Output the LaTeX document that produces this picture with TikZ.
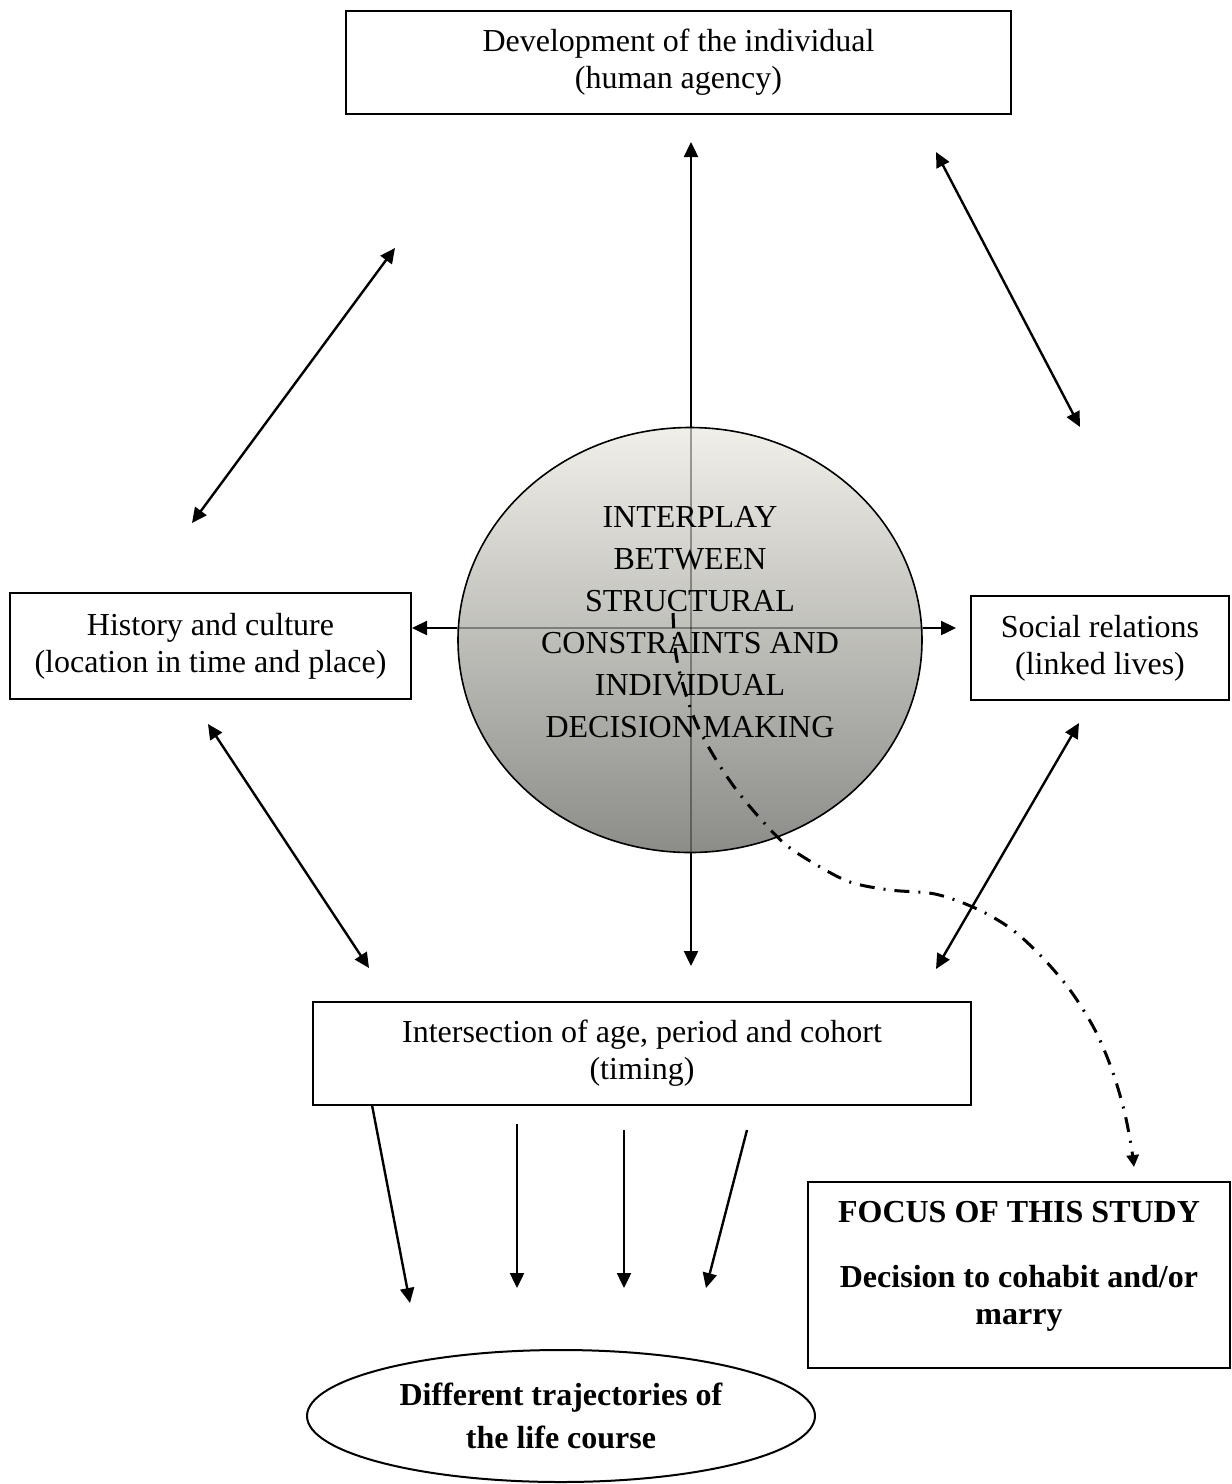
\documentclass[tikz,border=0pt]{standalone}
\usepackage{fontspec}
\setmainfont{Liberation Serif}
\usetikzlibrary{arrows.meta,shapes.geometric}
\begin{document}
\begin{tikzpicture}[x=0.5pt,y=-0.5pt,
  box/.style={draw=black,line width=1pt,rectangle,inner sep=0pt,align=center,font=\fontsize{16pt}{18.5pt}\selectfont},
  arr/.style={line width=1.2pt,-{Triangle[length=7.5pt,width=7pt]}},
  darr/.style={line width=1.2pt,{Triangle[length=7.5pt,width=7pt]}-{Triangle[length=7.5pt,width=7pt]}},
  dd/.style={line width=1.5pt,dash pattern=on 7.5pt off 4.5pt on 1pt off 4.5pt,-{Triangle[length=6pt,width=6pt]}},
  cross/.style={draw=black,draw opacity=0.35,line width=1pt}
]
\useasboundingbox (0,0) rectangle (1232,1484);

% boxes
\node[box,minimum width=332.5pt,minimum height=51.5pt] (dev) at (678.5,62.5) {Development of the individual\\(human agency)};
\node[box,minimum width=200.5pt,minimum height=53pt] (hist) at (210.5,646) {History and culture\\(location in time and place)};
\node[box,minimum width=129pt,minimum height=52pt] (soc) at (1100,648) {Social relations\\(linked lives)};
\node[box,minimum width=329pt,minimum height=51.5pt] (time) at (642,1053.5) {Intersection of age, period and cohort\\(timing)};
\node[box,minimum width=211pt,minimum height=93pt] (focus) at (1019,1275) {};
\node[align=center,font=\bfseries\fontsize{16pt}{18.5pt}\selectfont] (focustext) at (1019,1266) {FOCUS OF THIS STUDY\\[14pt]Decision to cohabit and/or\\marry};

% core ellipse
\node[ellipse,draw=black,line width=0.8pt,minimum width=232pt,minimum height=212.5pt,inner sep=0pt,
  top color={rgb,255:red,240;green,239;blue,232},bottom color={rgb,255:red,140;green,140;blue,137}] (core) at (690,640) {};
\coordinate (cc) at (691,628);
\draw[cross] (core.north -| cc) -- (core.south -| cc);
\draw[cross] (core.west |- cc) -- (core.east |- cc);
\node[align=center,font=\fontsize{16pt}{21pt}\selectfont] (coretext) at (690,622) {INTERPLAY\\BETWEEN\\STRUCTURAL\\CONSTRAINTS AND\\INDIVIDUAL\\DECISION MAKING};

% bottom ellipse
\node[ellipse,draw=black,line width=1pt,minimum width=254pt,minimum height=66pt,inner sep=0pt,align=center,
  font=\bfseries\fontsize{16pt}{21.5pt}\selectfont] (traj) at (561,1416) {Different trajectories of\\the life course};

% arrow end coordinates
\coordinate (upT) at (691,142);
\coordinate (dnT) at (691,966);
\coordinate (lT) at (412,628);
\coordinate (rT) at (956,628);
\draw[arr] (core.north -| cc) -- (upT);
\draw[arr] (core.south -| cc) -- (dnT);
\draw[arr] (core.west |- cc) -- (lT);
\draw[arr] (core.east |- cc) -- (rT);

\coordinate (nwA) at (192,523); \coordinate (nwB) at (395,248);
\coordinate (neA) at (936,152); \coordinate (neB) at (1080,427);
\coordinate (swA) at (208,724); \coordinate (swB) at (369,968);
\coordinate (seA) at (1079,723); \coordinate (seB) at (936,969);
\draw[darr] (nwA) -- (nwB);
\draw[darr] (neA) -- (neB);
\draw[darr] (swA) -- (swB);
\draw[darr] (seA) -- (seB);

% arrows below the timing box
\coordinate (b1s) at (372,1105); \coordinate (b1e) at (410,1303);
\coordinate (b2s) at (517,1124); \coordinate (b2e) at (517,1288);
\coordinate (b3s) at (624,1130); \coordinate (b3e) at (624,1288);
\coordinate (b4s) at (747,1130); \coordinate (b4e) at (706,1288);
\draw[arr] (b1s) -- (b1e);
\draw[arr] (b2s) -- (b2e);
\draw[arr] (b3s) -- (b3e);
\draw[arr] (b4s) -- (b4e);

% dash-dot connector to focus box
\coordinate (dS) at (673,613);
\coordinate (dE) at (1134,1167);
\draw[dd] plot[smooth,tension=0.55] coordinates {(dS) (676,655) (686,695) (698,727) (715,758) (735,788) (758,816) (785,844) (815,864) (850,882) (890,890) (935,894) (975,908) (1010,928) (1040,955) (1070,990) (1095,1030) (1112,1070) (1124,1110) (1131,1145) (dE)};
\end{tikzpicture}
\end{document}
